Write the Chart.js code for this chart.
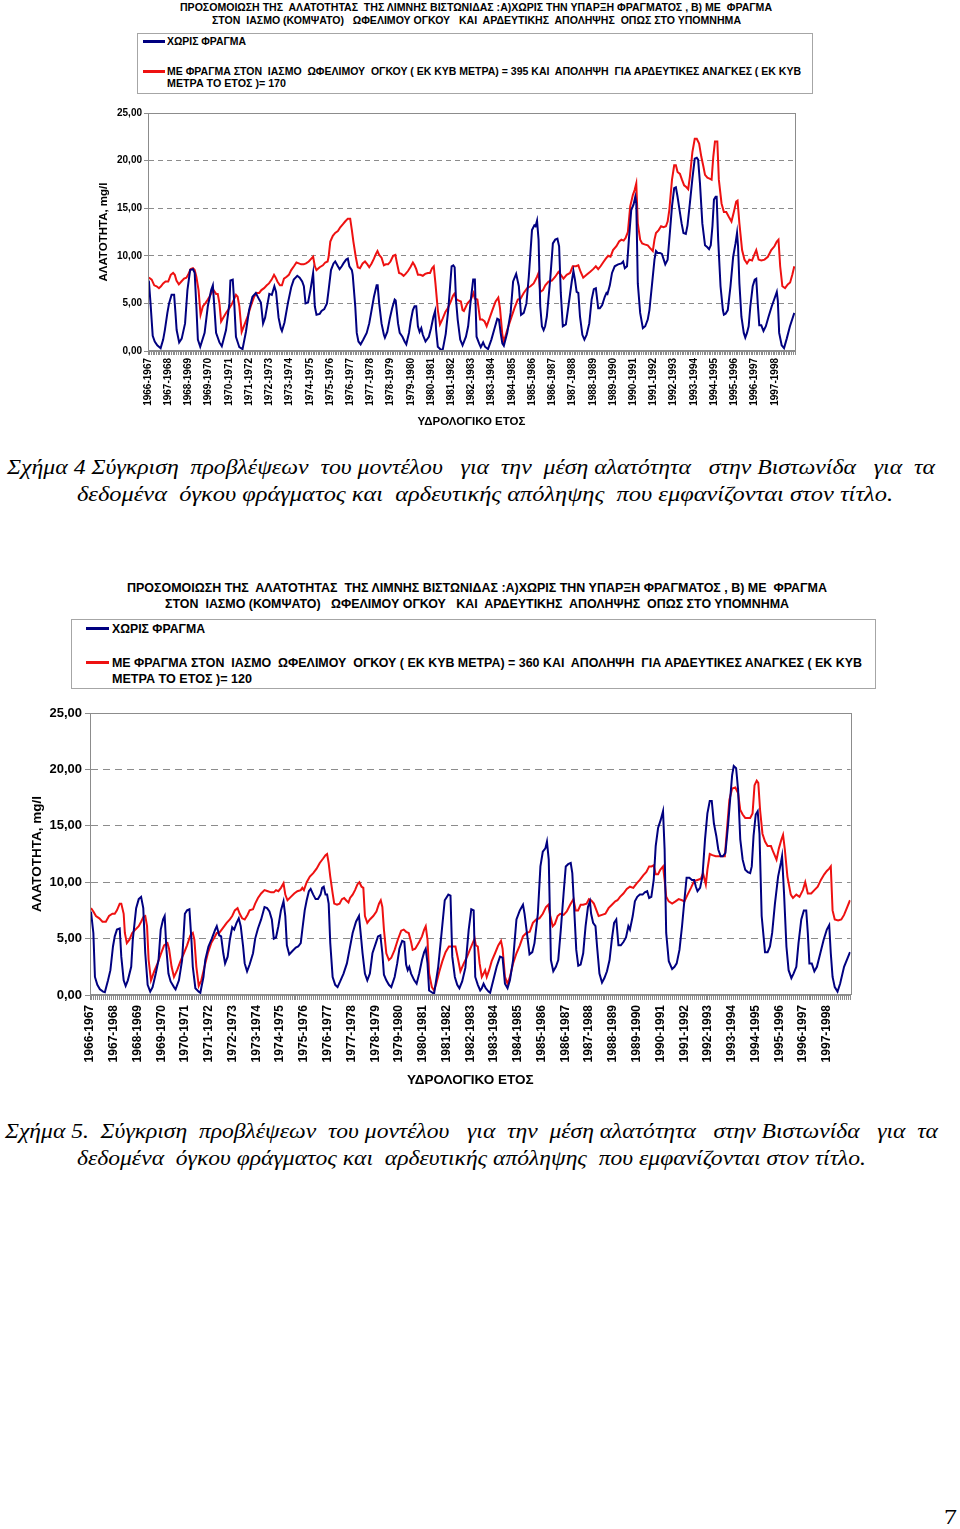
<!DOCTYPE html>
<html>
<head>
<meta charset="utf-8">
<script src="https://cdn.jsdelivr.net/npm/chart.js@4.4.0/dist/chart.umd.min.js"></script>
<style>
  html,body{margin:0;padding:0;background:#fff;}
  body{width:960px;height:1529px;position:relative;overflow:hidden;}
  .t{position:absolute;white-space:pre;transform-origin:0 50%;color:#000;line-height:1;}
  .hd{font-family:"Liberation Sans Narrow","Arial Narrow","Liberation Sans",Arial,sans-serif;font-weight:bold;}
  .cap{font-family:"Liberation Serif","Times New Roman",serif;font-style:italic;font-size:22px;}
  .box{position:absolute;border:1px solid #a6a6a6;background:#fff;}
  .ln{position:absolute;height:3px;}
  canvas{position:absolute;}
</style>
</head>
<body>

<div class="t hd" data-x="180" data-y="7" data-w="592" style="font-size:11px">ΠΡΟΣΟΜΟΙΩΣΗ ΤΗΣ  ΑΛΑΤΟΤΗΤΑΣ  ΤΗΣ ΛΙΜΝΗΣ ΒΙΣΤΩΝΙΔΑΣ :Α)ΧΩΡΙΣ ΤΗΝ ΥΠΑΡΞΗ ΦΡΑΓΜΑΤΟΣ , Β) ΜΕ  ΦΡΑΓΜΑ</div>
<div class="t hd" data-x="212" data-y="20" data-w="529" style="font-size:11px">ΣΤΟΝ  ΙΑΣΜΟ (ΚΟΜΨΑΤΟ)   ΩΦΕΛΙΜΟΥ ΟΓΚΟΥ   ΚΑΙ  ΑΡΔΕΥΤΙΚΗΣ  ΑΠΟΛΗΨΗΣ  ΟΠΩΣ ΣΤΟ ΥΠΟΜΝΗΜΑ</div>
<div class="box" style="left:137px;top:33px;width:674px;height:59px"></div>
<div class="ln" style="left:143px;top:40px;width:22px;background:#000080"></div>
<div class="t hd" data-x="167" data-y="41" data-w="79" style="font-size:11px">ΧΩΡΙΣ ΦΡΑΓΜΑ</div>
<div class="ln" style="left:143px;top:70px;width:22px;background:#ee1111"></div>
<div class="t hd" data-x="167" data-y="71" data-w="634" style="font-size:11px">ΜΕ ΦΡΑΓΜΑ ΣΤΟΝ  ΙΑΣΜΟ  ΩΦΕΛΙΜΟΥ  ΟΓΚΟΥ ( ΕΚ ΚΥΒ ΜΕΤΡΑ) = 395 ΚΑΙ  ΑΠΟΛΗΨΗ  ΓΙΑ ΑΡΔΕΥΤΙΚΕΣ ΑΝΑΓΚΕΣ ( ΕΚ ΚΥΒ</div>
<div class="t hd" data-x="167" data-y="83" data-w="119" style="font-size:11px">ΜΕΤΡΑ ΤΟ ΕΤΟΣ )= 170</div>
<canvas id="c1" width="720" height="333" style="left:90px;top:100px;width:720px;height:333px"></canvas>

<div class="t cap" data-x="7" data-y="467" data-w="928">Σχήμα 4 Σύγκριση  προβλέψεων  του μοντέλου   για  την  μέση αλατότητα   στην Βιστωνίδα   για  τα</div>
<div class="t cap" data-x="77" data-y="494" data-w="816">δεδομένα  όγκου φράγματος και  αρδευτικής απόληψης  που εμφανίζονται στον τίτλο.</div>

<div class="t hd" data-x="127" data-y="587" data-w="700" style="font-size:13px">ΠΡΟΣΟΜΟΙΩΣΗ ΤΗΣ  ΑΛΑΤΟΤΗΤΑΣ  ΤΗΣ ΛΙΜΝΗΣ ΒΙΣΤΩΝΙΔΑΣ :Α)ΧΩΡΙΣ ΤΗΝ ΥΠΑΡΞΗ ΦΡΑΓΜΑΤΟΣ , Β) ΜΕ  ΦΡΑΓΜΑ</div>
<div class="t hd" data-x="165" data-y="603" data-w="624" style="font-size:13px">ΣΤΟΝ  ΙΑΣΜΟ (ΚΟΜΨΑΤΟ)   ΩΦΕΛΙΜΟΥ ΟΓΚΟΥ   ΚΑΙ  ΑΡΔΕΥΤΙΚΗΣ  ΑΠΟΛΗΨΗΣ  ΟΠΩΣ ΣΤΟ ΥΠΟΜΝΗΜΑ</div>
<div class="box" style="left:71px;top:619px;width:803px;height:68px"></div>
<div class="ln" style="left:86px;top:627px;width:23px;background:#000080"></div>
<div class="t hd" data-x="112" data-y="628" data-w="93" style="font-size:13px">ΧΩΡΙΣ ΦΡΑΓΜΑ</div>
<div class="ln" style="left:86px;top:661px;width:23px;background:#ee1111"></div>
<div class="t hd" data-x="112" data-y="662" data-w="750" style="font-size:13px">ΜΕ ΦΡΑΓΜΑ ΣΤΟΝ  ΙΑΣΜΟ  ΩΦΕΛΙΜΟΥ  ΟΓΚΟΥ ( ΕΚ ΚΥΒ ΜΕΤΡΑ) = 360 ΚΑΙ  ΑΠΟΛΗΨΗ  ΓΙΑ ΑΡΔΕΥΤΙΚΕΣ ΑΝΑΓΚΕΣ ( ΕΚ ΚΥΒ</div>
<div class="t hd" data-x="112" data-y="678" data-w="140" style="font-size:13px">ΜΕΤΡΑ ΤΟ ΕΤΟΣ )= 120</div>
<canvas id="c2" width="850" height="392" style="left:20px;top:700px;width:850px;height:392px"></canvas>

<div class="t cap" data-x="5" data-y="1131" data-w="933">Σχήμα 5.  Σύγκριση  προβλέψεων  του μοντέλου   για  την  μέση αλατότητα   στην Βιστωνίδα   για  τα</div>
<div class="t cap" data-x="77" data-y="1158" data-w="789">δεδομένα  όγκου φράγματος και  αρδευτικής απόληψης  που εμφανίζονται στον τίτλο.</div>

<div class="t" data-x="944" data-y="1517" data-w="13" style="font-family:'Liberation Serif',serif;font-size:22px">7</div>

<script>
// ---------- DATA (month index from Oct 1966 = 0, value = salinity) ----------
const yearLabels = ["1966-1967","1967-1968","1968-1969","1969-1970","1970-1971","1971-1972","1972-1973","1973-1974","1974-1975","1975-1976","1976-1977","1977-1978","1978-1979","1979-1980","1980-1981","1981-1982","1982-1983","1983-1984","1984-1985","1985-1986","1986-1987","1987-1988","1988-1989","1989-1990","1990-1991","1991-1992","1992-1993","1993-1994","1994-1995","1995-1996","1996-1997","1997-1998"];
const seriesNames = ["ΧΩΡΙΣ ΦΡΑΓΜΑ","ΜΕ ΦΡΑΓΜΑ"];
const yTickValues = [0,5,10,15,20,25];

// Figure 4 : without dam
const fig4NoDam = [[0.5,7.4],[1.5,5.0],[2.8,1.6],[4,1.0],[5.5,0.6],[7.5,0.3],[9,1.2],[10,2.2],[11.5,4.0],[12.5,5.0],[14,5.9],[15.5,5.9],[16.3,4.0],[17,2.2],[18.5,0.9],[20,1.3],[22,2.9],[23.4,6.4],[25,8.5],[26.7,8.6],[27.7,8.2],[28.7,4.7],[29.6,1.2],[31,0.45],[33.6,1.9],[35.5,4.7],[37.5,6.4],[38.5,6.9],[39.5,4.3],[40.4,1.9],[42.4,0.9],[43.8,0.5],[46.3,2.2],[48.3,5.0],[48.9,7.4],[50.3,7.5],[51.2,5.0],[52.2,1.5],[54.2,0.4],[56.1,0.2],[58.1,2.0],[60,4.3],[62,5.7],[64,6.1],[66,5.4],[67,5.1],[68.3,2.9],[69.5,3.5],[71,5.0],[72,6.0],[73.5,5.9],[75,6.8],[76,6.2],[77.5,3.5],[78.8,2.4],[79.5,2.1],[81,3.0],[83,5.0],[85,6.7],[86.5,7.5],[88.6,7.9],[90,7.7],[91.5,7.3],[92.5,6.8],[93.5,5.0],[95,5.1],[96.5,6.5],[98,8.2],[99,4.7],[100,3.8],[101.9,3.9],[103,4.2],[104.6,4.4],[106.2,5.0],[107.2,6.4],[108.6,8.5],[110.1,9.2],[111.1,9.4],[112.7,8.9],[113.7,8.6],[115,8.9],[116,9.2],[117.6,9.6],[118.6,9.7],[119.5,8.9],[121,8.5],[121.5,8.0],[123,4.7],[123.9,1.9],[124.9,1.0],[126.2,0.7],[127.8,1.2],[129.8,1.9],[131.3,2.9],[132.7,4.3],[134.1,5.7],[135.7,6.9],[136.3,6.9],[137.2,5.0],[138.6,2.9],[140,1.7],[140.6,1.4],[142,2.0],[143.5,3.4],[144.9,4.5],[146.4,5.4],[147,5.3],[148.4,2.9],[149.4,1.9],[151,1.5],[152.3,1.0],[153.3,0.7],[154.9,1.9],[155.9,3.1],[157.2,4.3],[158.2,4.7],[159.2,4.7],[160.2,2.6],[161.2,2.0],[162.2,2.4],[163.1,1.7],[164.7,1.0],[166.7,1.5],[168,2.4],[169.4,3.6],[170.4,4.2],[171,2.2],[172,0.45],[174,0.1],[175,0.2],[176.7,1.8],[178.3,4.5],[180.2,8.9],[181.2,9.0],[182,8.8],[182.8,5.4],[183.8,3.3],[185.3,1.2],[186.7,0.6],[188.7,1.5],[190,2.6],[191.6,5.4],[193,7.5],[194,7.5],[195,1.5],[196.5,0.8],[197.5,0.4],[198.9,0.9],[200,0.45],[201.8,0.2],[203.8,1.2],[205.7,2.4],[207.3,3.4],[208.3,3.3],[209.3,1.9],[210.3,0.8],[211.2,0.55],[213.2,1.9],[215.2,4.0],[216.7,7.3],[218.5,8.1],[220.1,6.8],[221.4,3.8],[223,4.0],[224.6,5.0],[226,7.8],[227.9,12.7],[229.3,13.2],[230,13.1],[230.9,13.7],[231.8,11.7],[232.8,4.7],[233.8,2.6],[234.8,2.2],[235.7,2.6],[236.7,3.6],[238.7,7.5],[240.3,11.3],[241.7,11.7],[243,11.8],[244,11.0],[245,6.1],[246.2,2.6],[248,2.8],[249.5,4.7],[251.5,7.3],[252.5,8.4],[253.4,7.5],[254.4,6.2],[255.4,6.1],[256.4,3.6],[257.8,1.7],[259,1.2],[260.3,1.7],[261.9,2.9],[263.3,5.4],[264.6,6.5],[265.8,6.6],[267.2,4.5],[268.2,4.5],[269.5,4.8],[271.1,5.7],[272.1,6.1],[272.7,6.0],[274.1,6.9],[275.4,8.2],[277,8.9],[279,9.1],[281,9.2],[282,9.4],[283,8.7],[284.3,8.9],[285.4,11.7],[286.8,14.8],[288.2,15.4],[289.2,16.2],[289.8,15.5],[290.7,7.1],[292.1,4.0],[293.7,2.4],[295.1,2.6],[296.6,3.3],[297.6,4.3],[299.2,7.1],[300.6,9.6],[301.5,10.5],[302.5,10.3],[303.9,10.3],[305,10.2],[306.1,9.6],[307,9.1],[308.4,9.6],[309.4,11.7],[311,15.2],[312.3,17.1],[313.3,17.2],[314.3,16.2],[315.3,15.0],[316.7,13.4],[317.8,12.4],[319.2,12.3],[320.2,13.2],[321.6,15.5],[323.1,18.1],[324.5,20.2],[325.7,20.3],[326.5,20.1],[327.6,17.6],[329,13.4],[330.6,11.1],[332,10.9],[333,10.7],[334,11.1],[335,13.1],[335.9,15.9],[336.9,16.2],[337.5,16.2],[338.4,11.7],[339.8,6.8],[341.2,4.3],[341.8,3.8],[342.8,3.9],[344.1,4.3],[345.7,6.8],[347.3,9.9],[348.7,11.3],[349.6,12.4],[350.2,11.0],[351,7.1],[352.2,3.6],[353.6,1.9],[354.5,1.4],[355.5,1.9],[356.5,2.6],[357.5,4.7],[358.9,6.8],[360.1,7.5],[361,7.6],[362,4.7],[362.8,2.7],[364,2.7],[365.3,2.1],[366.7,2.6],[368.3,3.6],[370.2,4.7],[372.2,5.7],[373.2,6.2],[373.8,5.3],[374.6,1.9],[376.1,0.6],[377.5,0.3],[379.1,1.3],[381,2.6],[383.6,4.0]];

// Figure 4 : with dam (395 / 170)
const fig4Dam = [[0.5,7.7],[2.2,7.5],[3.7,6.9],[5.1,6.8],[6.5,6.6],[7.7,6.8],[9,7.1],[10.4,7.3],[12,7.3],[13.5,8.0],[14.9,8.2],[15.9,8.0],[16.9,7.4],[18.3,7.0],[19.8,7.3],[21.4,7.6],[22.8,7.7],[23.8,8.0],[25.3,8.6],[26.7,8.7],[27.7,8.5],[28.7,7.8],[30,6.4],[31.2,3.8],[32.6,4.7],[34,5.0],[35.5,5.4],[36.5,5.7],[37.9,6.2],[38.9,6.4],[40.4,6.0],[41.4,6.0],[42.4,5.0],[43.4,3.1],[45,3.6],[46.3,4.0],[48.3,4.5],[49.7,4.9],[51.2,5.5],[52.2,5.9],[53.2,5.7],[54.2,4.7],[55.6,2.0],[57.1,2.7],[59.1,3.6],[61,4.7],[63,5.7],[64.6,6.1],[66,6.1],[67.3,6.4],[68.9,6.6],[70.5,6.9],[71.8,7.1],[73.4,7.5],[74.8,8.0],[75.8,7.7],[76.8,7.3],[78.3,6.9],[79.5,6.9],[80.7,7.6],[82.3,7.8],[83.6,8.0],[85,8.5],[86.6,8.9],[88.1,9.3],[89.5,9.2],[90.9,9.1],[92.4,9.1],[93.8,9.2],[95.4,9.4],[96.4,9.6],[98,9.9],[99,8.9],[100,8.5],[101.9,8.8],[103.8,9.0],[105.2,9.3],[106.6,9.4],[107.2,9.9],[108.2,11.5],[109.7,12.1],[111.1,12.4],[112.7,12.6],[114.1,13.0],[115.6,13.3],[117,13.6],[118.6,13.9],[120,13.9],[121,12.7],[121.9,11.5],[123.3,9.9],[124.5,8.8],[125.8,8.7],[127.4,9.2],[128.8,9.4],[130.2,9.1],[131.3,8.8],[132.7,9.2],[134.1,9.7],[135.3,10.2],[136.2,10.5],[137.2,10.1],[138.6,9.8],[140,9.0],[141.1,9.1],[142.5,9.1],[143.9,9.4],[145.5,10.0],[146.8,10.1],[147.8,9.2],[149,8.2],[150.4,8.1],[151.7,7.9],[152.9,8.1],[154.3,8.4],[155.7,8.8],[157.2,9.3],[158.2,9.0],[159.2,8.6],[160.2,8.0],[161.6,8.0],[163.1,7.9],[164.5,8.1],[166.1,8.2],[167.4,8.2],[168.6,8.7],[169.6,8.9],[170.6,7.1],[172,4.3],[173.3,2.8],[174.9,3.4],[176.5,4.1],[177.9,4.5],[179.5,5.1],[181,5.8],[181.8,6.0],[183.2,5.4],[184.5,5.3],[185.7,5.2],[186.7,4.3],[187.5,4.2],[189.6,5.0],[191.6,5.4],[193.2,6.1],[194,5.5],[195.5,5.4],[197.1,3.3],[198.4,3.3],[199.8,3.1],[201,2.6],[202.4,3.3],[204.4,4.3],[206.3,5.2],[207.9,5.6],[208.9,4.5],[210.3,1.7],[211.2,1.0],[213.2,2.2],[215.2,3.3],[217.5,4.5],[219.5,5.4],[221.1,5.5],[223,6.1],[225,6.6],[227,6.8],[228.9,7.1],[230.9,7.8],[231.8,8.2],[232.8,6.2],[234.4,6.4],[235.8,6.9],[237.7,7.3],[239.7,7.4],[241.7,7.8],[243.6,8.3],[245,8.0],[246.6,7.6],[248.5,8.0],[250.5,8.2],[252.1,8.9],[254,8.9],[255.4,9.0],[256.8,8.3],[258.3,7.7],[260.3,8.0],[262.3,8.3],[264.2,8.6],[265.8,8.9],[267.2,8.6],[268.6,8.9],[270.1,9.3],[271.7,9.7],[273.1,10.0],[274.5,9.9],[276,10.6],[278,11.0],[279.6,11.5],[281,11.7],[282.3,11.6],[283.5,11.9],[284.8,12.5],[286.2,15.2],[287.8,16.4],[288.8,16.9],[289.8,17.6],[290.7,13.4],[292.1,11.7],[293.3,11.3],[294.7,11.2],[296.6,11.1],[298,10.8],[299.6,10.5],[300.6,11.7],[301.5,12.4],[303.1,12.7],[304.5,13.1],[306,13.0],[307.4,13.1],[308.4,13.6],[309.4,14.8],[311,18.0],[312.3,19.5],[313.3,19.5],[314.3,18.8],[315.7,18.6],[316.9,18.0],[318.2,17.4],[319.6,17.2],[320.6,17.0],[321.6,18.3],[323.1,20.9],[324.5,22.3],[325.7,22.3],[327.1,21.8],[328.4,20.4],[329.6,19.4],[330.6,18.5],[332,18.2],[333.3,18.1],[334.5,18.0],[335.5,20.4],[336.5,22.0],[337.9,22.0],[338.8,18.0],[340.4,15.5],[341.8,14.6],[343.2,14.6],[344.7,14.1],[346.3,13.6],[347.7,14.6],[349.1,15.7],[349.9,15.8],[351,13.4],[352.6,10.6],[354,9.6],[355.5,9.2],[356.9,9.6],[358.5,9.5],[359.8,10.1],[361,10.6],[362.4,9.6],[364,9.5],[365.9,9.6],[367.9,9.9],[369.9,10.6],[371.8,11.0],[373.2,11.5],[374.2,11.7],[375.2,8.9],[376.5,6.8],[378.1,6.6],[379.7,7.0],[381.1,7.2],[382.4,8.0],[383.6,8.9]];

// Figure 5 : without dam
const fig5NoDam = [[0.5,7.4],[1.7,5.5],[2.5,1.6],[3.7,0.9],[5,0.5],[6.6,0.3],[7.5,0.25],[9.1,1.3],[10.3,2.2],[11.6,4.3],[12.5,5.2],[13.6,5.8],[15,5.9],[15.8,3.4],[17,1.3],[18,0.8],[19.1,1.3],[20.8,2.5],[21.6,4.9],[23.3,7.7],[24.6,8.5],[25.8,8.7],[26.9,7.7],[27.9,3.7],[29.1,0.9],[30.4,0.3],[31.6,0.7],[33.2,1.9],[34.6,3.1],[35.7,5.8],[36.9,6.7],[37.7,7.0],[38.6,4.0],[39.6,1.9],[40.7,1.2],[42.4,0.7],[43.2,0.5],[44.9,1.3],[46.5,3.1],[47.9,7.2],[49,7.5],[50.2,7.6],[51.2,4.9],[51.9,2.5],[53.2,0.6],[54.9,0.3],[55.7,0.2],[57.3,1.6],[58.2,3.1],[59.8,4.3],[61.5,5.0],[63.2,5.8],[64,6.1],[65.2,5.3],[66.2,5.2],[67.3,3.7],[68.2,2.8],[69.5,3.4],[70.6,4.9],[71.8,6.0],[72.8,5.8],[74,6.4],[75.1,6.8],[76.1,6.1],[77.3,4.3],[78.1,2.8],[79.3,2.1],[80.6,2.7],[82.3,3.7],[83.4,5.0],[84.8,5.9],[86.4,6.7],[88.1,7.8],[89.4,7.7],[90.6,7.4],[91.8,6.7],[92.8,5.0],[93.9,5.1],[95.1,6.1],[96.4,7.5],[97.7,8.3],[98.6,7.0],[99.4,4.4],[100.6,3.6],[102.2,3.9],[103.9,4.2],[105.1,4.3],[106.4,4.6],[107.2,5.8],[108.4,7.5],[109.4,8.4],[110.5,9.2],[111.4,9.4],[112.7,8.9],[113.9,8.5],[115.1,8.5],[116.4,8.9],[117.2,9.5],[118,9.6],[118.9,8.9],[119.7,8.9],[120.5,8.1],[121.3,4.6],[122.5,1.6],[123.8,0.9],[125,0.7],[126.3,1.2],[128,1.9],[129.7,2.8],[131,4.0],[132.6,5.5],[134.3,6.5],[135.8,7.0],[136.8,5.2],[137.6,3.7],[138.8,1.9],[140,1.3],[141.3,1.9],[142.6,3.7],[144.3,4.6],[145.4,5.2],[146.6,5.3],[147.6,3.7],[148.4,1.8],[149.6,1.3],[150.9,0.9],[152.1,0.7],[153.8,1.6],[155.1,2.8],[156.2,4.1],[157.6,4.8],[158.7,4.7],[159.6,2.7],[160.4,2.2],[161.2,2.5],[162.1,1.9],[163.7,1.3],[164.9,1.0],[166.2,1.9],[167.6,3.1],[168.7,3.8],[169.5,4.1],[170.4,2.8],[171.2,0.4],[172.9,0.2],[173.7,0.1],[175.8,2.5],[177.5,5.5],[179.1,8.4],[180.9,8.9],[182,8.8],[182.9,3.4],[184.2,1.6],[185.4,0.9],[186.5,0.6],[187.9,1.2],[189.5,2.4],[191.2,5.8],[192.5,7.6],[193.7,7.5],[194.5,1.6],[195.8,0.9],[197,0.4],[197.8,0.6],[198.7,1.0],[199.8,0.6],[201.2,0.3],[202,0.2],[203.6,1.3],[205.3,2.5],[207,3.4],[208.3,3.3],[209.5,1.0],[210.8,0.6],[212,1.3],[213.6,3.1],[215.3,6.7],[217,7.5],[218.6,8.0],[219.4,7.2],[220.8,5.2],[221.9,3.6],[223.3,3.8],[224.4,4.6],[226.1,7.2],[227.4,11.4],[228.6,12.7],[229.9,13.0],[230.7,13.6],[231.6,12.0],[232.7,3.1],[233.9,2.1],[235.2,2.5],[236.4,3.1],[237.7,5.8],[239.1,9.0],[240.2,11.4],[241.4,11.6],[242.7,11.7],[243.5,10.8],[244.4,7.8],[245.5,4.0],[246.5,2.6],[247.7,2.7],[249,3.7],[250.2,6.1],[251.4,7.8],[252.4,8.3],[253,7.2],[254,6.4],[255.2,6.1],[256,4.3],[257.2,1.9],[258.5,1.1],[259.7,1.5],[261,2.1],[262.3,3.1],[263.5,5.0],[264.6,6.4],[265.7,6.7],[266.8,4.4],[268,4.4],[269.3,4.7],[270.6,5.1],[271.8,6.1],[272.6,5.8],[274,7.0],[275.1,8.3],[276.3,8.7],[277.6,8.9],[279,8.9],[280.1,9.1],[281.3,9.2],[282.3,8.6],[283.4,8.7],[284.6,10.2],[285.6,13.2],[286.8,14.8],[288.1,15.5],[289.3,16.3],[290.1,12.9],[290.9,5.5],[292.2,3.0],[293.9,2.3],[295.1,2.5],[296.2,2.8],[297.6,4.0],[298.9,6.1],[300.1,8.4],[301.2,10.4],[302.6,10.4],[303.9,10.2],[305,10.2],[305.9,9.6],[306.7,9.2],[308,9.5],[309.2,10.5],[310.5,13.8],[311.7,16.1],[312.9,17.2],[313.9,17.2],[315,15.2],[316.2,14.1],[317.2,12.9],[318.4,12.3],[319.5,12.3],[320.8,12.6],[322.2,15.2],[323.3,17.6],[324.2,19.5],[325,20.3],[326.2,20.1],[327.2,18.2],[328.3,13.8],[329.5,12.0],[330.8,11.1],[332.1,10.9],[333.3,10.8],[334.1,11.4],[335,14.1],[336.1,16.0],[337.1,16.3],[338,14.3],[339.1,7.0],[340.8,3.8],[342.1,3.8],[343.3,4.3],[344.4,5.5],[345.8,8.1],[347.4,10.5],[348.8,11.7],[349.4,12.3],[350.4,9.0],[351.6,4.3],[352.7,2.2],[354.1,1.5],[355.2,1.9],[356.6,2.5],[357.7,4.6],[359.1,6.7],[360.4,7.5],[361.6,7.5],[362.4,5.5],[363.2,2.8],[364.4,2.8],[365.7,2.1],[367,2.5],[368.7,3.7],[370.4,4.9],[372,5.8],[373.2,6.2],[374,3.7],[374.9,1.6],[376,0.7],[377.4,0.3],[378.7,1.0],[380.7,2.5],[383.7,3.8]];

// Figure 5 : with dam (360 / 120)
const fig5Dam = [[0.5,7.7],[1.7,7.4],[3,7.0],[4.7,6.8],[6.3,6.5],[8,6.5],[9.6,7.0],[11.3,7.2],[12.5,7.2],[13.6,7.5],[15,8.1],[15.8,8.1],[17,7.2],[17.6,5.5],[18.6,4.6],[19.9,4.9],[21.3,5.5],[22.9,5.8],[24.6,6.1],[25.8,6.5],[26.9,6.9],[27.9,7.0],[28.8,6.1],[29.6,3.1],[30.8,1.3],[32.4,2.1],[34.1,2.8],[35.7,3.6],[37.4,4.4],[39.1,4.6],[39.9,4.1],[41.2,2.5],[42.4,1.6],[44,2.2],[45.7,3.0],[47.4,3.7],[49,4.4],[50.7,5.3],[51.9,5.5],[52.7,4.9],[53.7,2.5],[54.9,0.8],[56.2,1.3],[57.8,2.5],[59.5,3.7],[61.2,4.6],[62.8,5.1],[64,5.5],[65.2,5.5],[66.5,5.8],[67.8,6.1],[69,6.4],[70.6,6.7],[71.8,7.0],[73.1,7.5],[74.5,7.7],[75.6,7.2],[76.8,6.8],[78.1,6.7],[79.5,7.1],[80.6,7.5],[82.3,7.6],[83.4,8.1],[84.8,8.6],[86.4,9.0],[88.1,9.3],[89.8,9.2],[91.4,9.1],[92.8,9.1],[93.9,9.3],[95.1,9.2],[96.4,9.5],[97.7,9.9],[98.6,8.9],[99.7,8.4],[101.4,8.7],[103.1,9.0],[104.7,9.2],[106.4,9.3],[107.2,9.5],[108,9.3],[109.4,10.0],[111,10.5],[112.7,10.8],[114.4,11.2],[116,11.7],[117.7,12.1],[118.9,12.4],[119.7,12.5],[120.5,11.7],[121.3,10.5],[122.5,9.0],[123.3,8.1],[124.7,8.0],[126,8.1],[127.2,8.5],[128.3,8.6],[129.3,8.4],[130.5,8.2],[131.3,8.6],[132.6,8.9],[133.8,9.3],[135,9.8],[136,10.0],[137.1,9.6],[138,9.5],[138.8,7.0],[140,6.4],[141.3,6.7],[143,7.0],[144.6,7.4],[145.9,8.1],[146.8,8.4],[147.6,7.8],[148.4,5.8],[149.6,3.7],[150.9,3.1],[152.1,3.3],[153.8,4.0],[155.4,4.9],[157.1,5.7],[158.4,5.8],[159.6,5.6],[160.9,5.5],[162.1,4.7],[162.9,4.0],[164.2,4.1],[165.9,4.6],[167.6,5.2],[168.7,5.8],[169.5,6.1],[170.4,4.9],[171.2,1.9],[172.6,0.7],[173.7,0.4],[174.8,1.0],[176.4,2.1],[177.9,3.0],[179.5,3.8],[181.2,4.3],[182.9,4.3],[184.5,4.3],[185.9,3.1],[187,2.1],[188.7,2.8],[190.4,3.4],[192,4.1],[193.2,4.6],[194.2,5.0],[194.8,4.4],[195.8,4.3],[196.7,2.8],[197.8,1.6],[198.7,1.9],[199.5,2.2],[200.3,1.6],[201.5,2.2],[202.8,3.0],[204.5,3.7],[206.1,4.4],[207.5,4.8],[208.3,4.1],[209.5,1.6],[210.8,1.0],[212,1.6],[213.6,2.8],[215.3,3.7],[217,4.4],[218.6,5.2],[220.3,5.5],[222,5.6],[223.6,6.4],[225.3,6.7],[226.9,6.8],[228.6,7.2],[230.2,7.8],[231.4,8.0],[232.4,7.0],[233.6,6.1],[234.7,6.3],[236.1,7.0],[237.4,7.2],[239.1,7.1],[240.7,7.4],[242.4,8.0],[244.1,8.5],[245.2,7.5],[246.4,7.5],[247.7,8.0],[249,8.0],[250.7,8.1],[251.9,8.5],[253,8.4],[254.4,8.1],[255.7,7.5],[256.8,7.0],[258.5,7.1],[260.2,7.2],[261.8,7.7],[263.5,8.0],[265.2,8.3],[266.3,8.4],[267.6,8.7],[269.3,9.0],[271,9.4],[272.6,9.6],[274.3,9.5],[276,9.9],[277.6,10.2],[279.3,10.6],[280.9,10.9],[282.3,11.4],[283.5,11.4],[284.6,11.5],[285.6,10.7],[286.8,10.7],[287.9,11.1],[289.3,11.4],[290.1,10.2],[290.9,8.7],[292.2,8.3],[293.9,8.1],[295.6,8.3],[297.2,8.5],[298.9,8.4],[300.1,8.3],[301.7,8.9],[303.4,9.5],[305,10.1],[306.7,10.2],[308.4,10.3],[309.5,10.8],[310.9,9.8],[311.7,11.1],[312.9,12.5],[314.2,12.4],[315.9,12.3],[317.5,12.3],[319.2,12.3],[320.5,12.3],[321.7,14.9],[322.8,17.3],[324.2,18.3],[325.8,18.4],[327.2,17.9],[328.3,16.4],[329.5,16.0],[330.8,15.7],[332,15.7],[333.3,15.7],[334.5,16.1],[335.5,18.6],[336.6,19.0],[337.4,18.8],[338.3,16.4],[339.5,14.3],[340.8,13.6],[342.1,13.2],[343.8,13.2],[344.9,12.7],[346.6,12.0],[347.8,13.0],[349.1,13.8],[349.9,14.2],[350.8,12.9],[352.1,10.5],[353.8,8.9],[354.9,8.6],[356.6,8.9],[358.2,8.7],[359.9,9.3],[361.1,10.0],[362.4,9.0],[364.1,9.0],[365.7,9.3],[367.4,9.6],[369,10.2],[370.7,10.7],[372,11.0],[373.2,11.2],[374,11.4],[374.9,7.5],[376,6.7],[377.7,6.6],[379.3,6.7],[380.7,7.1],[382.3,7.8],[383.7,8.4]];

// ---------- text fitting ----------
function placeTexts(){
  document.querySelectorAll('.t').forEach(el=>{
    el.style.transform='none';
    const x=+el.dataset.x, y=+el.dataset.y, w=+el.dataset.w;
    const r=el.getBoundingClientRect();
    el.style.left=x+'px';
    el.style.top=(y - r.height/2)+'px';
    if(w && r.width>0){ el.style.transform='scaleX('+(w/r.width)+')'; }
  });
}

// ---------- charts ----------
const GRID='#8c8c8c';
const frame={id:'frame',afterDatasetsDraw(chart){
  const {ctx,chartArea:a}=chart; ctx.save(); ctx.strokeStyle=GRID; ctx.lineWidth=1; ctx.setLineDash([]);
  ctx.strokeRect(Math.round(a.left)+0.5,Math.round(a.top)+0.5,Math.round(a.right-a.left),Math.round(a.bottom-a.top)-1);
  ctx.restore();}};

function build(id, noDam, dam, o){
  const fam='"Liberation Sans", Arial, sans-serif';
  const nMonths = yearLabels.length*12;
  new Chart(document.getElementById(id),{
    type:'line',
    data:{datasets:[
      {label:seriesNames[0],data:noDam.map(p=>({x:p[0],y:p[1]})),borderColor:'#000080',borderWidth:2,pointRadius:0,tension:0,fill:false},
      {label:seriesNames[1],data:dam.map(p=>({x:p[0],y:p[1]})),borderColor:'#ee1111',borderWidth:2,pointRadius:0,tension:0,fill:false}
    ]},
    options:{
      responsive:false,animation:false,devicePixelRatio:1,
      layout:{padding:{top:13,right:10,left:0,bottom:0}},
      plugins:{legend:{display:false},tooltip:{enabled:false}},
      scales:{
        x:{type:'linear',min:0,max:nMonths,
          afterBuildTicks:s=>{s.ticks=Array.from({length:nMonths+1},(_,i)=>({value:i}));},
          afterFit:s=>{s.height=o.xH;},
          ticks:{autoSkip:false,maxRotation:90,minRotation:90,padding:o.xPad,color:'#000',
            font:{family:fam,size:o.xFont,weight:'bold'},
            callback:v=>(v%12===0 && v/12<yearLabels.length)?yearLabels[v/12]:''},
          grid:{drawOnChartArea:false,drawTicks:true,tickLength:o.tick,tickColor:GRID,color:GRID,lineWidth:1},
          border:{display:true,color:GRID,width:1},
          title:{display:true,text:'ΥΔΡΟΛΟΓΙΚΟ ΕΤΟΣ',color:'#000',font:{family:fam,size:o.tFont,weight:'bold'},padding:{top:4,bottom:4}}
        },
        y:{min:0,max:25,
          afterBuildTicks:s=>{s.ticks=yTickValues.map(v=>({value:v}));},
          afterFit:s=>{s.width=o.yW;},
          ticks:{padding:o.yPad,color:'#000',font:{family:fam,size:o.yFont,weight:'bold'},
            callback:v=>v.toFixed(2).replace('.',',')},
          grid:{color:c=>(c.tick&&(c.tick.value===0||c.tick.value===25))?'rgba(0,0,0,0)':GRID,tickColor:GRID,tickLength:o.tick,lineWidth:1},
          border:{display:true,color:GRID,width:1,dash:o.dash},
          title:{display:true,text:'ΑΛΑΤΟΤΗΤΑ, mg/l',color:'#000',font:{family:fam,size:o.tFont,weight:'bold'},padding:{top:o.yTitlePad,bottom:0}}
        }
      }
    },
    plugins:[frame]
  });
}

function go(){
  placeTexts();
  build('c1',fig4NoDam,fig4Dam,{xH:82,yW:58,xFont:10,yFont:10,tFont:11.5,tick:4,xPad:3,yPad:2,dash:[5,4],yTitlePad:7});
  build('c2',fig5NoDam,fig5Dam,{xH:97,yW:70,xFont:12,yFont:13,tFont:13.5,tick:5,xPad:5,yPad:3,dash:[7,5],yTitlePad:9});
}
if(document.fonts&&document.fonts.ready){document.fonts.ready.then(go);}else{window.onload=go;}
</script>
</body>
</html>
